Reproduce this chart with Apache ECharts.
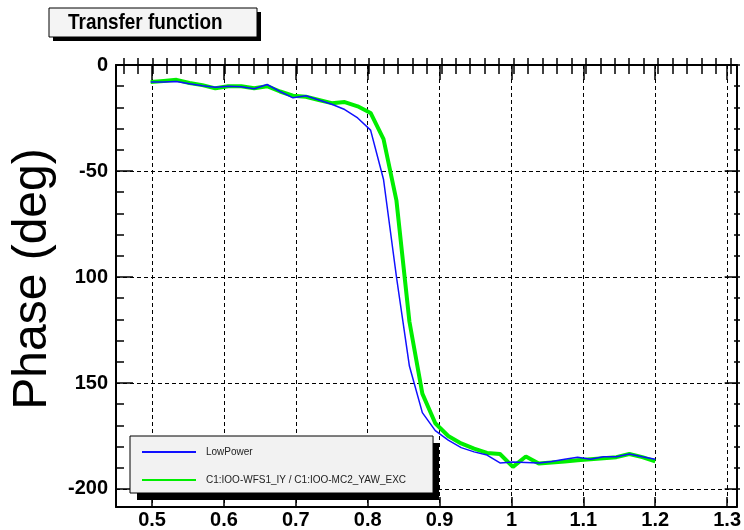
<!DOCTYPE html>
<html>
<head>
<meta charset="utf-8">
<script src="https://cdn.jsdelivr.net/npm/echarts@6/dist/echarts.min.js"></script>
<style>
html,body{margin:0;padding:0;background:#fff;}
#chart{width:744px;height:530px;}
</style>
</head>
<body>
<div id="chart"></div>
<script>
// ---- data ----
const freq = [0.498, 0.516, 0.534, 0.552, 0.570, 0.588, 0.606, 0.624, 0.642, 0.660,
              0.678, 0.696, 0.714, 0.732, 0.750, 0.768, 0.786, 0.804, 0.822, 0.840,
              0.858, 0.876, 0.894, 0.912, 0.930, 0.948, 0.966, 0.984, 1.002, 1.020,
              1.038, 1.056, 1.074, 1.092, 1.110, 1.128, 1.146, 1.164, 1.182, 1.200];
const lowPower = [-8, -8, -7.8, -8.8, -9.8, -10.5, -10, -10.3, -11.2, -9.2,
                  -12.5, -15.5, -14.5, -16.5, -18.5, -21, -25, -30.7, -54, -100,
                  -142, -164, -172.5, -177, -180.5, -182.5, -184, -187.7, -187.3, -187.5,
                  -187.7, -187, -186, -185, -186, -184.8, -184.8, -183.5, -184.8, -186];
const wfsOverMc2 = [-8, -7.5, -7, -8.5, -9.5, -11, -10, -10, -11, -10,
                    -12.5, -14.5, -15, -16.5, -18, -17.5, -19.5, -22.6, -35, -64,
                    -121, -155, -169, -175, -178.5, -181, -183, -183.5, -189.6, -184.7,
                    -188, -187.5, -187, -186.5, -186, -185.5, -185, -183.5, -185, -187];
const seriesNames = ['LowPower', 'C1:IOO-WFS1_IY / C1:IOO-MC2_YAW_EXC'];

const xTickValues = [0.5, 0.6, 0.7, 0.8, 0.9, 1.0, 1.1, 1.2, 1.3];
const xTickLabels = ['0.5', '0.6', '0.7', '0.8', '0.9', '1', '1.1', '1.2', '1.3'];
const xMinorTicks = [0.46, 0.48, 0.50, 0.52, 0.54, 0.56, 0.58, 0.60, 0.62, 0.64, 0.66, 0.68,
                     0.70, 0.72, 0.74, 0.76, 0.78, 0.80, 0.82, 0.84, 0.86, 0.88, 0.90, 0.92,
                     0.94, 0.96, 0.98, 1.00, 1.02, 1.04, 1.06, 1.08, 1.10, 1.12, 1.14, 1.16,
                     1.18, 1.20, 1.22, 1.24, 1.26, 1.28, 1.30];
const yTickValues = [0, -50, -100, -150, -200];
const yTickLabels = ['0', '-50', '100', '150', '-200'];
const yMinorTicks = [0, -10, -20, -30, -40, -50, -60, -70, -80, -90, -100, -110, -120, -130,
                     -140, -150, -160, -170, -180, -190, -200];

const titleText = 'Transfer function';
const yTitle = 'Phase (deg)';

// ---- layout ----
const X_MIN = 0.4498, X_MAX = 1.3133;
const Y_MIN = -208.5, Y_MAX = 0;
const FONT = '"Liberation Sans", Arial, Helvetica, sans-serif';
const gridRect = {left: 116, top: 65, right: 4, bottom: 23, containLabel: false};

function pickLabel(values, labels) {
  return function (v) {
    for (let i = 0; i < values.length; i++) {
      if (Math.abs(values[i] - v) < 1e-6) return labels[i];
    }
    return '';
  };
}

const frameLine = {show: true, onZero: false, lineStyle: {color: '#000', width: 2}};
const gridLineStyle = {show: true, lineStyle: {color: '#000', width: 1, type: [4, 3]}};

function xAx(grid, pos, opts) {
  return Object.assign({
    type: 'value', gridIndex: grid, position: pos, min: X_MIN, max: X_MAX,
    axisLine: {show: false}, axisLabel: {show: false}, splitLine: {show: false}
  }, opts);
}
function yAx(grid, pos, opts) {
  return Object.assign({
    type: 'value', gridIndex: grid, position: pos, min: Y_MIN, max: Y_MAX,
    axisLine: {show: false}, axisLabel: {show: false}, splitLine: {show: false}
  }, opts);
}

const chart = echarts.init(document.getElementById('chart'), null, {renderer: 'canvas'});
chart.setOption({
  animation: false,
  backgroundColor: '#fff',
  grid: [Object.assign({}, gridRect), Object.assign({}, gridRect)],
  xAxis: [
    xAx(0, 'bottom', {
      axisLine: frameLine,
      axisTick: {show: true, inside: true, length: 10, customValues: xTickValues, lineStyle: {color: '#000', width: 1.5}},
      axisLabel: {show: true, customValues: xTickValues, formatter: pickLabel(xTickValues, xTickLabels),
                  color: '#000', fontSize: 20, fontWeight: 'bold', fontFamily: FONT, margin: 3},
      splitLine: gridLineStyle
    }),
    xAx(0, 'top', {
      axisLine: frameLine,
      axisTick: {show: true, inside: true, length: 15, customValues: xTickValues, lineStyle: {color: '#000', width: 1.5}}
    }),
    xAx(1, 'bottom', {
      axisTick: {show: true, inside: true, length: 7, customValues: xMinorTicks, lineStyle: {color: '#000', width: 1.5}}
    }),
    xAx(1, 'top', {
      axisTick: {show: true, inside: true, length: 9, customValues: xMinorTicks, lineStyle: {color: '#000', width: 1.5}}
    })
  ],
  yAxis: [
    yAx(0, 'left', {
      axisLine: frameLine,
      axisTick: {show: true, inside: true, length: 17, customValues: yTickValues, lineStyle: {color: '#000', width: 1.5}},
      axisLabel: {show: true, customValues: yTickValues, formatter: pickLabel(yTickValues, yTickLabels),
                  color: '#000', fontSize: 20, fontWeight: 'bold', fontFamily: FONT, margin: 8},
      splitLine: gridLineStyle
    }),
    yAx(0, 'right', {
      axisLine: frameLine,
      axisTick: {show: true, inside: true, length: 12, customValues: yTickValues, lineStyle: {color: '#000', width: 1.5}}
    }),
    yAx(1, 'left', {
      axisTick: {show: true, inside: true, length: 8, customValues: yMinorTicks, lineStyle: {color: '#000', width: 1.5}}
    }),
    yAx(1, 'right', {
      axisTick: {show: true, inside: true, length: 6, customValues: yMinorTicks, lineStyle: {color: '#000', width: 1.5}}
    })
  ],
  legend: {
    data: seriesNames,
    orient: 'vertical',
    left: 130, top: 436,
    itemWidth: 54, itemHeight: 10, itemGap: 18,
    padding: [11, 27, 8, 11],
    backgroundColor: '#f2f2f2',
    borderColor: '#000', borderWidth: 1,
    itemStyle: {opacity: 0},
    textStyle: {fontSize: 10, color: '#222', fontFamily: FONT, padding: [0, 0, 0, 5]},
    selectedMode: false,
    z: 6
  },
  graphic: [
    {type: 'rect', shape: {x: 53, y: 12, width: 208, height: 29}, style: {fill: '#000'}, z: 10},
    {type: 'rect', shape: {x: 49, y: 8, width: 208, height: 29}, style: {fill: '#f4f4f4', stroke: '#000', lineWidth: 1}, z: 11},
    {type: 'text', x: 68, y: 23, scaleX: 0.86, z: 12,
     style: {text: titleText, fill: '#000', font: 'bold 22px ' + FONT, textAlign: 'left', textVerticalAlign: 'middle'}},
    {type: 'text', x: 33, y: 279, rotation: Math.PI / 2, z: 12,
     style: {text: yTitle, fill: '#000', font: '48px ' + FONT, textAlign: 'center', textVerticalAlign: 'middle'}},
    // legend drop shadow
    {type: 'rect', shape: {x: 137, y: 443, width: 302, height: 57}, style: {fill: '#000'}, z: 5}
  ],
  series: [
    {
      name: seriesNames[1], type: 'line', xAxisIndex: 0, yAxisIndex: 0,
      data: freq.map((f, i) => [f, wfsOverMc2[i]]),
      symbol: 'none', lineStyle: {color: '#00ee00', width: 4}, itemStyle: {color: '#00ee00'}, z: 2
    },
    {
      name: seriesNames[0], type: 'line', xAxisIndex: 0, yAxisIndex: 0,
      data: freq.map((f, i) => [f, lowPower[i]]),
      symbol: 'none', lineStyle: {color: '#1010ff', width: 1.5}, itemStyle: {color: '#1010ff'}, z: 3
    }
  ]
});
</script>
</body>
</html>
